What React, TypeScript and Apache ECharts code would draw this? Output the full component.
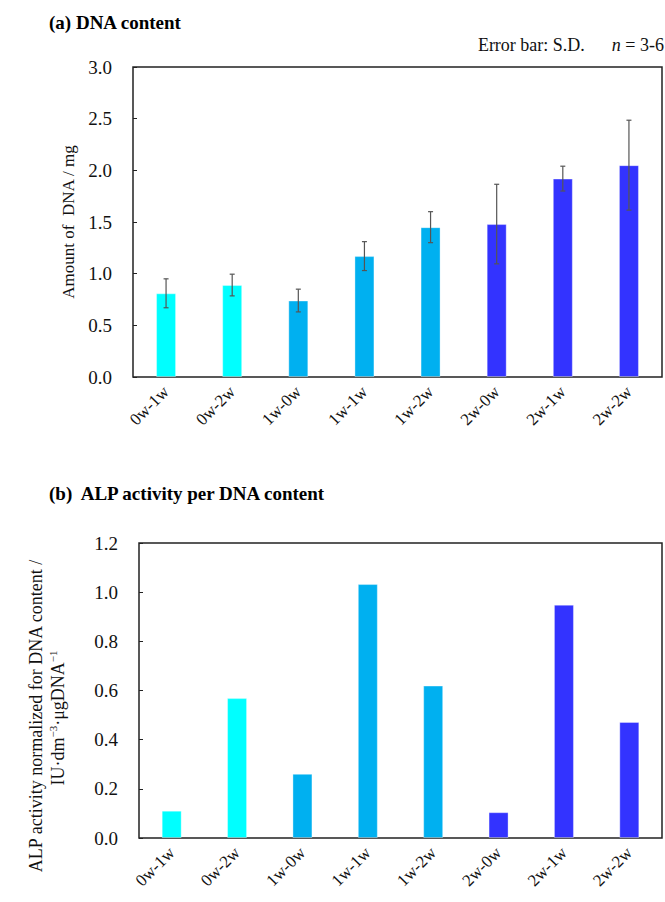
import React, { useEffect, useRef } from "react";
import * as echarts from "echarts";

const categories = ["0w-1w", "0w-2w", "1w-0w", "1w-1w", "1w-2w", "2w-0w", "2w-1w", "2w-2w"];
const dnaMean = [0.81, 0.89, 0.74, 1.17, 1.45, 1.48, 1.92, 2.05];
const dnaSD = [0.14, 0.105, 0.11, 0.14, 0.15, 0.385, 0.12, 0.435];
const alpPerDna = [0.111, 0.569, 0.261, 1.033, 0.62, 0.105, 0.949, 0.472];
const groupOf = [0, 0, 1, 1, 1, 2, 2, 2];
const groupColors = ["#00FFFF", "#00B0F0", "#3333FF"];

const SERIF = "'Liberation Serif', 'Times New Roman', serif";

export default function App() {
  const ref = useRef<HTMLDivElement>(null);
  useEffect(() => {
    if (!ref.current) return;
    const chart = echarts.init(ref.current, null, { renderer: "svg" });
    const barData = (vals: number[]) =>
      vals.map((v, i) => ({
        value: v,
        itemStyle: {
          color: groupColors[groupOf[i]],
          borderColor: "rgba(255,255,255,0.35)",
          borderWidth: 1,
        },
      }));
    const axisLabelY = {
      fontFamily: SERIF,
      fontSize: 19,
      color: "#111",
      margin: 21,
      formatter: (v: number) => v.toFixed(1),
    };
    const axisLabelX = {
      fontFamily: SERIF,
      fontSize: 17,
      color: "#111",
      rotate: 45,
      margin: 12,
      interval: 0,
    };
    const option: any = {
      animation: false,
      backgroundColor: "#fff",
      title: [
        {
          text: "(a) DNA content",
          left: 44,
          top: 8,
          textStyle: { fontFamily: SERIF, fontSize: 19, fontWeight: "bold", color: "#000" },
        },
        {
          text: "(b)  ALP activity per DNA content",
          left: 44,
          top: 479,
          textStyle: { fontFamily: SERIF, fontSize: 19, fontWeight: "bold", color: "#000" },
        },
      ],
      graphic: [
        {
          type: "text",
          right: 1,
          top: 36,
          style: {
            text: "{a|Error bar: S.D.}{sp|      }{i|n}{a| = 3-6}",
            rich: {
              a: { fontFamily: SERIF, fontSize: 18, fill: "#111" },
              sp: { fontFamily: SERIF, fontSize: 18 },
              i: { fontFamily: SERIF, fontSize: 18, fontStyle: "italic", fill: "#111" },
            },
          },
        },
        {
          type: "text",
          x: 36,
          y: 716,
          rotation: Math.PI / 2,
          style: {
            text: "ALP activity normalized for DNA content /",
            fontFamily: SERIF,
            fontSize: 18,
            fill: "#111",
            align: "center",
            verticalAlign: "middle",
          },
        },
        {
          type: "text",
          x: 58,
          y: 718,
          rotation: Math.PI / 2,
          style: {
            text: "{a|IU·dm}{s|−3}{a|·μgDNA}{s|−1}",
            align: "center",
            verticalAlign: "middle",
            rich: {
              a: { fontFamily: SERIF, fontSize: 18, fill: "#111", lineHeight: 22 },
              s: { fontFamily: SERIF, fontSize: 11, fill: "#111", verticalAlign: "top", lineHeight: 22 },
            },
          },
        },
      ],
      grid: [
        { left: 133, right: 3, top: 67, bottom: 525, show: true, borderColor: "#222", borderWidth: 1.5, containLabel: false },
        { left: 139, right: 3, top: 543, bottom: 64, show: true, borderColor: "#222", borderWidth: 1.5, containLabel: false },
      ],
      xAxis: [
        {
          type: "category",
          gridIndex: 0,
          data: categories,
          axisLine: { show: false },
          axisTick: { show: false },
          axisLabel: axisLabelX,
        },
        {
          type: "category",
          gridIndex: 1,
          data: categories,
          axisLine: { show: false },
          axisTick: { show: false },
          axisLabel: axisLabelX,
        },
      ],
      yAxis: [
        {
          type: "value",
          gridIndex: 0,
          min: 0,
          max: 3,
          interval: 0.5,
          name: "Amount of  DNA / mg",
          nameLocation: "middle",
          nameGap: 46,
          nameTextStyle: { fontFamily: SERIF, fontSize: 17, color: "#111" },
          axisLine: { show: false },
          axisTick: { show: true, inside: true, length: 4, lineStyle: { color: "#222" } },
          splitLine: { show: false },
          axisLabel: axisLabelY,
        },
        {
          type: "value",
          gridIndex: 1,
          min: 0,
          max: 1.2,
          interval: 0.2,
          axisLine: { show: false },
          axisTick: { show: true, inside: true, length: 4, lineStyle: { color: "#222" } },
          splitLine: { show: false },
          axisLabel: axisLabelY,
        },
      ],
      series: [
        {
          type: "bar",
          xAxisIndex: 0,
          yAxisIndex: 0,
          barWidth: 20,
          data: barData(dnaMean),
        },
        {
          type: "custom",
          xAxisIndex: 0,
          yAxisIndex: 0,
          data: dnaMean.map((m, i) => [i, m - dnaSD[i], m + dnaSD[i]]),
          z: 10,
          renderItem: (params: any, api: any) => {
            const x = api.value(0);
            const lo = api.coord([x, api.value(1)]);
            const hi = api.coord([x, api.value(2)]);
            const cap = 2.5;
            const st = { stroke: "#555", lineWidth: 1.2 };
            return {
              type: "group",
              children: [
                { type: "line", shape: { x1: lo[0], y1: lo[1], x2: hi[0], y2: hi[1] }, style: st },
                { type: "line", shape: { x1: lo[0] - cap, y1: lo[1], x2: lo[0] + cap, y2: lo[1] }, style: st },
                { type: "line", shape: { x1: hi[0] - cap, y1: hi[1], x2: hi[0] + cap, y2: hi[1] }, style: st },
              ],
            };
          },
        },
        {
          type: "bar",
          xAxisIndex: 1,
          yAxisIndex: 1,
          barWidth: 20,
          data: barData(alpPerDna),
        },
      ],
    };
    chart.setOption(option);
    return () => chart.dispose();
  }, []);
  return (
    <div
      ref={ref}
      style={{ position: "fixed", left: 0, top: 0, width: 665, height: 902, background: "#fff" }}
    />
  );
}
